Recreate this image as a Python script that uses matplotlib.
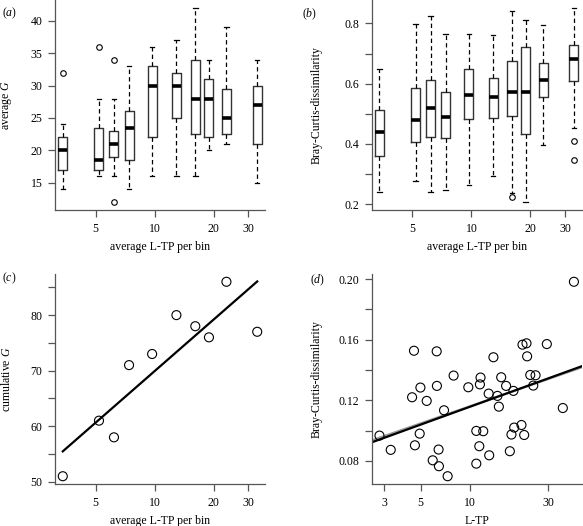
import numpy as np
import matplotlib
matplotlib.use("Agg")
import matplotlib.pyplot as plt

plt.rcParams['font.family'] = ['Liberation Serif', 'DejaVu Serif']
plt.rcParams['mathtext.fontset'] = 'custom'
plt.rcParams['mathtext.rm'] = 'Liberation Serif'
plt.rcParams['mathtext.it'] = 'Liberation Serif:italic'

# average L-TP per bin (shared by panels a, b, c)
bin_ltp = [3.4, 5.2, 6.2, 7.4, 9.7, 12.9, 16.1, 18.9, 23.2, 33.3]

# (a) average G per bin
g_med = [20, 18.5, 21, 23.5, 30, 30, 28, 28, 25, 27]
g_q1 = [17, 17, 19, 18.5, 22, 25, 22.5, 22, 22.5, 21]
g_q3 = [22, 23.5, 23, 26, 33, 32, 34, 31, 29.5, 30]
g_lo = [14, 16, 16, 14, 16, 16, 16, 20, 21, 15]
g_hi = [24, 28, 28, 33, 36, 37, 42, 34, 39, 34]
g_out = [[32], [36], [34, 12], [], [], [], [], [], [], []]

# (b) Bray-Curtis dissimilarity per bin
bc_med = [0.44, 0.479, 0.518, 0.49, 0.561, 0.556, 0.572, 0.572, 0.613, 0.681]
bc_q1 = [0.36, 0.405, 0.423, 0.42, 0.481, 0.487, 0.494, 0.434, 0.557, 0.609]
bc_q3 = [0.512, 0.584, 0.612, 0.571, 0.647, 0.618, 0.674, 0.721, 0.67, 0.729]
bc_lo = [0.241, 0.275, 0.241, 0.247, 0.264, 0.294, 0.238, 0.206, 0.397, 0.453]
bc_hi = [0.65, 0.797, 0.825, 0.764, 0.765, 0.763, 0.84, 0.811, 0.794, 0.852]
bc_out = [[], [], [], [], [], [], [0.222], [], [], [0.409, 0.345]]

# (c) cumulative G per bin
cum_g = [51, 61, 58, 71, 73, 80, 78, 76, 86, 77]

# (d) per-sample L-TP vs Bray-Curtis dissimilarity
ltp = [2.81, 3.29, 4.56, 4.44, 4.62, 4.99, 4.94, 5.45, 5.93, 6.27, 6.29, 6.44,
       6.47, 6.95, 7.31, 7.95, 9.77, 10.93, 10.93, 11.4, 11.5, 11.6, 12.05,
       13.0, 13.1, 13.9, 14.7, 15.0, 15.5, 16.6, 17.5, 17.9, 18.4, 18.6, 20.6,
       20.9, 21.4, 22.1, 22.3, 23.3, 24.3, 25.1, 29.4, 36.8, 43.0]
bc = [0.0967, 0.0873, 0.1527, 0.122, 0.0903, 0.1284, 0.098, 0.1196, 0.0804,
      0.1523, 0.1295, 0.0875, 0.0765, 0.1134, 0.0699, 0.1363, 0.1286, 0.0998,
      0.0782, 0.0897, 0.1305, 0.135, 0.0996, 0.1244, 0.0837, 0.1484, 0.1229,
      0.1158, 0.1352, 0.1295, 0.0864, 0.0974, 0.1262, 0.102, 0.1037, 0.1567,
      0.0971, 0.1576, 0.149, 0.1367, 0.1297, 0.1365, 0.1571, 0.1149, 0.1982]
# sample left out of the grey comparison fit
grey_drop = 1

line_col = '#333333'
axis_col = '#555555'


def padded(lo, hi, f=0.04):
    r = hi - lo
    return lo - f * r, hi + f * r


def style(ax, xticks, xlabels, yticks, ylabels, xlabel, ylabel, ylab_x):
    for s in ['top', 'right']:
        ax.spines[s].set_visible(False)
    for s in ['left', 'bottom']:
        ax.spines[s].set_color(axis_col)
        ax.spines[s].set_linewidth(0.9)
    ax.set_xticks(xticks)
    ax.set_xticklabels(xlabels)
    ax.set_yticks(yticks)
    ax.set_yticklabels(ylabels)
    ax.tick_params(direction='out', length=5, width=0.9, color=axis_col,
                   labelsize=8.5, pad=4)
    ax.set_xlabel(xlabel, fontsize=8.5)
    ax.set_ylabel(ylabel, fontsize=8.5)
    ax.xaxis.set_label_coords(0.5, -0.148)
    ax.yaxis.set_label_coords(ylab_x, 0.5)


def boxes(ax, med, q1, q3, lo, hi, out):
    stats = []
    for m, a, b, l, h, f in zip(med, q1, q3, lo, hi, out):
        stats.append(dict(med=m, q1=a, q3=b, whislo=l, whishi=h, fliers=f))
    ax.bxp(stats, positions=np.log10(bin_ltp), widths=0.046, manage_ticks=False,
           boxprops=dict(color=line_col, lw=1),
           whiskerprops=dict(color='black', lw=0.9, linestyle=(0, (3.5, 2.5))),
           capprops=dict(color='black', lw=0.9),
           medianprops=dict(color='black', lw=2.6, solid_capstyle='butt'),
           flierprops=dict(marker='o', mfc='none', mec='black', ms=4, mew=0.8))


W, H = 583, 526
fig = plt.figure(figsize=(W / 100, H / 100), dpi=100)
ax_a = fig.add_axes([55 / W, 1 - 210 / H, 210 / W, 210 / H])
ax_b = fig.add_axes([371.7 / W, 1 - 210 / H, 210 / W, 210 / H])
ax_c = fig.add_axes([55 / W, 1 - 484 / H, 210 / W, 210 / H])
ax_d = fig.add_axes([371.7 / W, 1 - 484 / H, 210 / W, 210 / H])

bin_x = np.log10(bin_ltp)
bin_xlim = padded(bin_x.min(), bin_x.max())
bin_ticks = [5, 10, 20, 30]

# (a)
boxes(ax_a, g_med, g_q1, g_q3, g_lo, g_hi, g_out)
g_all = g_lo + g_hi + sum(g_out, [])
ax_a.set_xlim(bin_xlim)
ax_a.set_ylim(padded(min(g_all), max(g_all)))
style(ax_a, np.log10(bin_ticks), [str(t) for t in bin_ticks],
      [15, 20, 25, 30, 35, 40], ['15', '20', '25', '30', '35', '40'],
      'average L-TP per bin', 'average $G$', -0.195)

# (b)
boxes(ax_b, bc_med, bc_q1, bc_q3, bc_lo, bc_hi, bc_out)
bc_all = bc_lo + bc_hi + sum(bc_out, [])
ax_b.set_xlim(bin_xlim)
ax_b.set_ylim(padded(min(bc_all), max(bc_all)))
style(ax_b, np.log10(bin_ticks), [str(t) for t in bin_ticks],
      [0.2, 0.3, 0.4, 0.5, 0.6, 0.7, 0.8],
      ['0.2', '', '0.4', '', '0.6', '', '0.8'],
      'average L-TP per bin', 'Bray-Curtis-dissimilarity', -0.234)

# (c)
ax_c.scatter(bin_x, cum_g, s=42, facecolors='none', edgecolors='black',
             linewidths=0.8, zorder=3)
k, b0 = np.polyfit(bin_x, cum_g, 1)
xs = np.array([bin_x.min(), bin_x.max()])
ax_c.plot(xs, k * xs + b0, color='black', lw=1.6)
ax_c.set_xlim(bin_xlim)
ax_c.set_ylim(padded(min(cum_g), max(cum_g)))
style(ax_c, np.log10(bin_ticks), [str(t) for t in bin_ticks],
      [50, 55, 60, 65, 70, 75, 80, 85], ['50', '', '60', '', '70', '', '80', ''],
      'average L-TP per bin', 'cumulative $G$', -0.202)

# (d)
lx = np.log10(ltp)
bc_arr = np.array(bc)
ax_d.scatter(lx, bc, s=42, facecolors='none', edgecolors='black',
             linewidths=0.8, zorder=3)
d_xlim = padded(lx.min(), lx.max())
xs = np.array(d_xlim)
keep = np.arange(len(lx)) != grey_drop
k2, b2 = np.polyfit(lx[keep], bc_arr[keep], 1)
ax_d.plot(xs, k2 * xs + b2, color='#999999', lw=1.6)
k1, b1 = np.polyfit(lx, bc_arr, 1)
ax_d.plot(xs, k1 * xs + b1, color='black', lw=1.6)
ax_d.set_xlim(d_xlim)
ax_d.set_ylim(padded(bc_arr.min(), bc_arr.max()))
d_ticks = [3, 5, 10, 30]
style(ax_d, np.log10(d_ticks), [str(t) for t in d_ticks],
      [0.08, 0.10, 0.12, 0.14, 0.16, 0.18, 0.20],
      ['0.08', '', '0.12', '', '0.16', '', '0.20'],
      'L-TP', 'Bray-Curtis-dissimilarity', -0.236)

for lab, x, y in [('a', 2, 13.5), ('b', 302, 14), ('c', 2, 278.5), ('d', 310, 280)]:
    fig.text(x / W, 1 - y / H, '(' + '$' + lab + '$' + ')', fontsize=8.5,
             va='center', ha='left')

fig.savefig('out.png', dpi=100)
